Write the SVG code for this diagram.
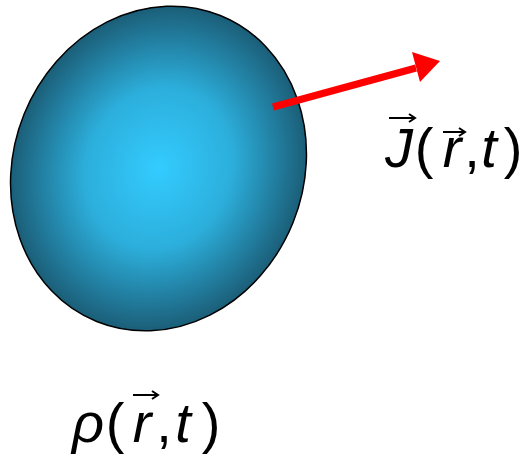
<svg xmlns="http://www.w3.org/2000/svg" width="527" height="458" viewBox="0 0 527 458">
<defs>
<radialGradient id="g" cx="0.5" cy="0.5" r="0.5">
<stop offset="0" stop-color="#33CCFF"/>
<stop offset="0.5" stop-color="#2CAEDB"/>
<stop offset="1" stop-color="#1B5E78"/>
</radialGradient>
<style>
.m{font-family:"Liberation Sans",Arial,sans-serif;font-size:56px;fill:#000;text-anchor:middle}
.i{font-style:italic}
.v{stroke:#000;stroke-width:2;fill:none}
</style>
</defs>
<g id="blob">
<ellipse cx="158.5" cy="168.5" rx="145" ry="165" transform="rotate(22 158.5 168.5)" fill="url(#g)" stroke="#000" stroke-width="1.5"/>
</g>
<g id="connectors">
<line x1="273" y1="107" x2="416" y2="68" stroke="#FF0000" stroke-width="7"/>
<polygon points="440,61 412,52 420,82" fill="#FF0000"/>
</g>
<g id="J">
<text class="m i" x="399" y="167">J</text>
<text class="m" x="424" y="167">(</text>
<text class="m i" x="452" y="167">r</text>
<text class="m" x="472" y="167">,</text>
<text class="m i" x="489" y="167">t</text>
<text class="m" x="513" y="167">)</text>
<path class="v" d="M389,118 H414 M409,114 L415,118 L409,122"/>
<path class="v" d="M443,132 H464 M459,128 L465,132 L459,136"/>
</g>
<g id="rho">
<text class="m i" x="88" y="442">ρ</text>
<text class="m" x="115" y="442">(</text>
<text class="m i" x="142" y="442">r</text>
<text class="m" x="164" y="442">,</text>
<text class="m i" x="183" y="442">t</text>
<text class="m" x="211" y="442">)</text>
<path class="v" d="M133,395 H157 M152,391 L158,395 L152,399"/>
</g>
</svg>
